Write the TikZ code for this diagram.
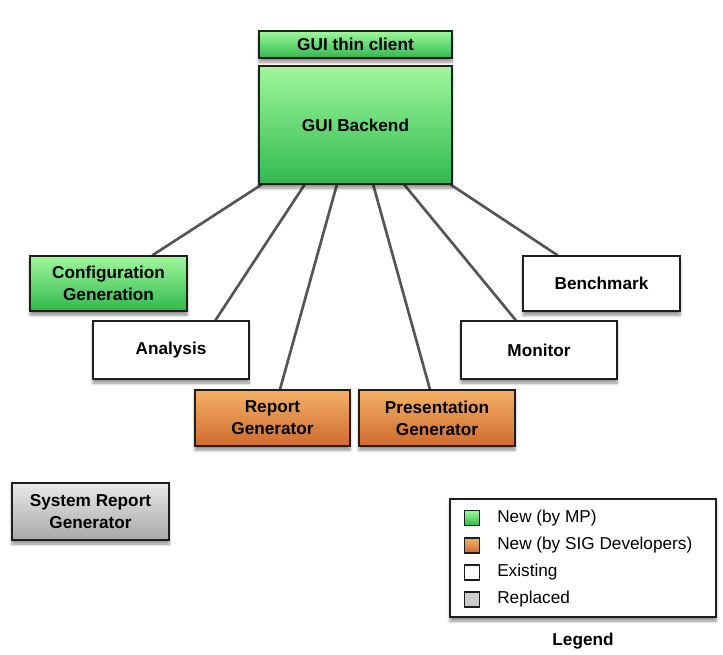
\documentclass[tikz,border=0pt]{standalone}
\usepackage{fontspec}
\setmainfont{Liberation Sans}
\usetikzlibrary{calc,shadows.blur,backgrounds}
\definecolor{gtop}{RGB}{160,248,155}
\definecolor{gbot}{RGB}{48,184,78}
\definecolor{otop}{RGB}{242,178,102}
\definecolor{obot}{RGB}{208,106,46}
\definecolor{stop}{RGB}{232,232,232}
\definecolor{sbot}{RGB}{168,168,168}
\definecolor{edgec}{RGB}{30,30,30}
\definecolor{linkc}{RGB}{85,85,85}
\tikzset{
  box/.style={draw=edgec, line width=1pt, rectangle, align=center,
    font=\fontsize{12.9}{16.5}\selectfont\bfseries, inner sep=0pt,
    blur shadow={shadow xshift=0pt, shadow yshift=-3pt, shadow blur steps=6, shadow opacity=45}},
  greenbox/.style={box, shading=axis, top color=gtop, bottom color=gbot},
  orangebox/.style={box, shading=axis, top color=otop, bottom color=obot},
  whitebox/.style={box, fill=white},
  graybox/.style={box, shading=axis, top color=stop, bottom color=sbot},
  sq/.style={draw=edgec, line width=0.8pt, minimum width=11.25pt, minimum height=11.25pt, inner sep=0pt},
  legtext/.style={anchor=west, font=\fontsize{12.9}{15}\selectfont, inner sep=0pt},
  link/.style={draw=linkc, line width=2pt}
}
\begin{document}
\begin{tikzpicture}[x=0.75pt,y=-0.75pt]
\useasboundingbox (0,0) rectangle (723,654);
\node[greenbox, minimum width=144.75pt, minimum height=20.25pt] (thin) at (355.5,44.5) {GUI thin client};
\node[greenbox, minimum width=144.75pt, minimum height=88.5pt] (backend) at (355.5,125) {GUI Backend};
\node[greenbox, minimum width=117.75pt, minimum height=41.25pt] (config) at (108.5,283.5) {Configuration\\Generation};
\node[whitebox, minimum width=117pt, minimum height=43.5pt] (analysis) at (171,350) {Analysis};
\node[orangebox, minimum width=116.25pt, minimum height=42pt] (report) at (272.5,418) {Report\\Generator};
\node[orangebox, minimum width=117pt, minimum height=42pt] (present) at (437,418) {Presentation\\Generator};
\node[whitebox, minimum width=117pt, minimum height=43.5pt] (monitor) at (539,350) {Monitor};
\node[whitebox, minimum width=117.75pt, minimum height=41.25pt] (bench) at (601.5,283.5) {Benchmark};
\node[graybox, minimum width=117.75pt, minimum height=42.75pt] (sysrep) at (90.5,511.5) {System Report\\Generator};
\node[whitebox, minimum width=199.5pt, minimum height=88.5pt] (legend) at (583,558) {};
\node[font=\fontsize{12.9}{15}\selectfont\bfseries] (legtitle) at (583,641) {Legend};
\node[sq, shading=axis, top color=gtop, bottom color=gbot] (s1) at (472,518) {};
\node[sq, shading=axis, top color=otop, bottom color=obot] (s2) at (472,545.5) {};
\node[sq, fill=white] (s3) at (472,572.5) {};
\node[sq, fill=gray!40] (s4) at (472,599.5) {};
\node[legtext] (t1) at (497,518) {New (by MP)};
\node[legtext] (t2) at (497,545.5) {New (by SIG Developers)};
\node[legtext] (t3) at (497,572.5) {Existing};
\node[legtext] (t4) at (497,599.5) {Replaced};
\begin{scope}[on background layer]
\draw[link] ($(backend.south west)!0.016!(backend.south east)$) -- ($(config.north west)!0.777!(config.north east)$);
\draw[link] ($(backend.south west)!0.238!(backend.south east)$) -- ($(analysis.north west)!0.782!(analysis.north east)$);
\draw[link] ($(backend.south west)!0.404!(backend.south east)$) -- ($(report.north west)!0.548!(report.north east)$);
\draw[link] ($(backend.south west)!0.591!(backend.south east)$) -- ($(present.north west)!0.455!(present.north east)$);
\draw[link] ($(backend.south west)!0.751!(backend.south east)$) -- ($(monitor.north west)!0.353!(monitor.north east)$);
\draw[link] ($(backend.south west)!0.990!(backend.south east)$) -- ($(bench.north west)!0.223!(bench.north east)$);
\end{scope}
\end{tikzpicture}
\end{document}
